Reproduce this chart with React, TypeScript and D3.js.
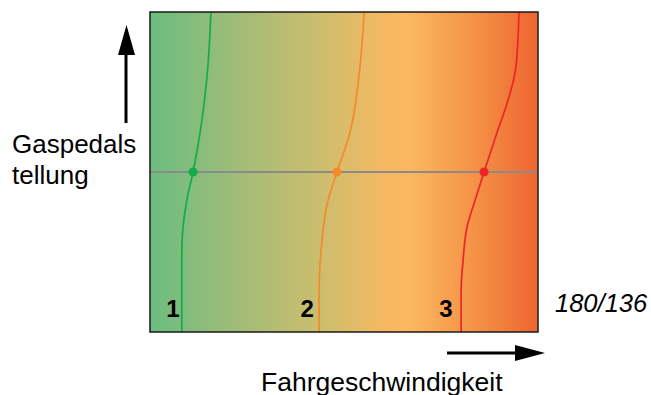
import React from "react";
import * as d3 from "d3";

const curve1X = [15.7, 14.9, 12.9, 11.1, 9.5, 8.2, 8.2, 8.2];
const curve1Y = [100, 82.8, 62.2, 50, 41.25, 25.6, 13.1, 0];
const curve2X = [55.2, 54.1, 51.5, 48.2, 45.9, 44.1, 43.6, 43.6];
const curve2Y = [100, 82.8, 62.2, 50, 41.25, 25.6, 13.1, 0];
const curve3X = [95.1, 94.3, 92.3, 89.4, 86.1, 83.8, 81.7, 80.7, 80.2, 80.2];
const curve3Y = [100, 82.8, 72.5, 62.2, 50, 41.25, 32.8, 22.5, 13.1, 0];
const gearLabels = ["1", "2", "3"];
const gearLabelX = [5.9, 40.5, 76.3];
const pedalLevel = 50;
const gearColors = ["#12ad4a", "#f58a2a", "#ee2528"];

const W = 651, H = 395;
const L = 150, R = 538, T = 12, B = 332;

export default function App() {
  const x = d3.scaleLinear().domain([0, 100]).range([L, R]);
  const y = d3.scaleLinear().domain([0, 100]).range([B, T]);
  const curves = [
    { xs: curve1X, ys: curve1Y },
    { xs: curve2X, ys: curve2Y },
    { xs: curve3X, ys: curve3Y },
  ];
  const line = d3
    .line<[number, number]>()
    .x((d) => x(d[0]))
    .y((d) => y(d[1]))
    .curve(d3.curveMonotoneY);
  const font = "Liberation Sans, Arial, Helvetica, sans-serif";
  return (
    <svg width={W} height={H} style={{ position: "absolute", left: 0, top: 0 }}>
      <defs>
        <linearGradient id="bg" x1="0" x2="1" y1="0" y2="0">
          <stop offset="0%" stopColor="#6bbd80" />
          <stop offset="25%" stopColor="#a6bc77" />
          <stop offset="45%" stopColor="#cfbd6d" />
          <stop offset="60%" stopColor="#f4b962" />
          <stop offset="67%" stopColor="#fbb760" />
          <stop offset="82%" stopColor="#f59649" />
          <stop offset="100%" stopColor="#ee6530" />
        </linearGradient>
      </defs>
      <rect x={L} y={T} width={R - L} height={B - T} fill="url(#bg)" />
      <line x1={L} x2={R} y1={y(pedalLevel)} y2={y(pedalLevel)} stroke="#8a8a8a" strokeWidth={2} />
      {curves.map((c, i) => {
        const pts = c.xs.map((v, j) => [v, c.ys[j]] as [number, number]);
        const k = c.ys.indexOf(pedalLevel);
        return (
          <g key={i}>
            <path d={line(pts) || ""} fill="none" stroke={gearColors[i]} strokeWidth={1.7} />
            <circle cx={x(c.xs[k])} cy={y(pedalLevel)} r={4.5} fill={gearColors[i]} />
          </g>
        );
      })}
      {gearLabels.map((g, i) => (
        <text key={g} x={x(gearLabelX[i])} y={317} fontFamily={font} fontWeight="bold" fontSize={24} fill="#000" textAnchor="middle">
          {g}
        </text>
      ))}
      <rect x={L} y={T} width={R - L} height={B - T} fill="none" stroke="#1a1a1a" strokeWidth={1.5} />
      <text x={555} y={312} fontFamily={font} fontStyle="italic" fontSize={25.5} fill="#000">180/136</text>
      <line x1={126} x2={126} y1={123} y2={50} stroke="#000" strokeWidth={3} />
      <polygon points="118,55 135,55 126.5,25" fill="#000" />
      <text x={12} y={153} fontFamily={font} fontSize={26} fill="#000">Gaspedals</text>
      <text x={12} y={184} fontFamily={font} fontSize={26} fill="#000">tellung</text>
      <line x1={447} x2={520} y1={353} y2={353} stroke="#000" strokeWidth={3} />
      <polygon points="515,345 515,361 545,353" fill="#000" />
      <text x={261} y={391} fontFamily={font} fontSize={26.5} fill="#000">Fahrgeschwindigkeit</text>
    </svg>
  );
}
